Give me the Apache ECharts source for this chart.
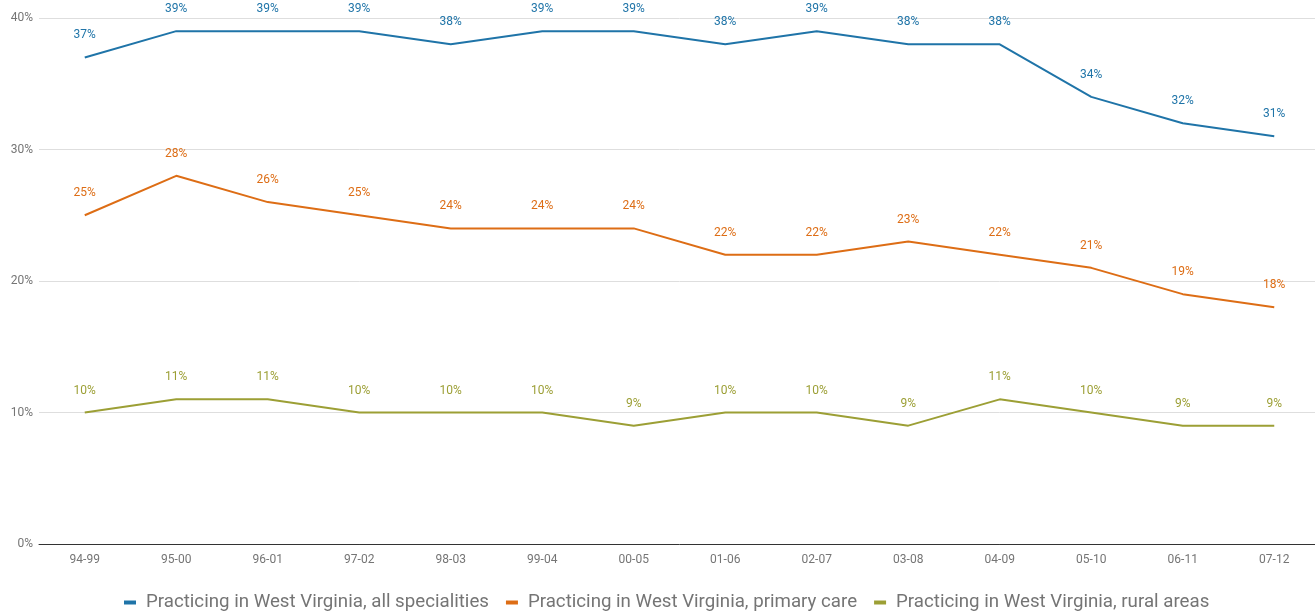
<!DOCTYPE html>
<html><head><meta charset="utf-8">
<script src="https://cdn.jsdelivr.net/npm/echarts@6/dist/echarts.min.js"></script>
<style>html,body{margin:0;padding:0;background:#fff;overflow:hidden}#c{width:1321px;height:612px}</style>
</head><body><div id="c"></div>
<script>
const categories = ["94-99","95-00","96-01","97-02","98-03","99-04","00-05","01-06","02-07","03-08","04-09","05-10","06-11","07-12"];
const allSpecialities = [37,39,39,39,38,39,39,38,39,38,38,34,32,31];
const primaryCare = [25,28,26,25,24,24,24,22,22,23,22,21,19,18];
const ruralAreas = [10,11,11,10,10,10,9,10,10,9,11,10,9,9];
const seriesNames = ["Practicing in West Virginia, all specialities","Practicing in West Virginia, primary care","Practicing in West Virginia, rural areas"];
const colors = ["#1f74a8","#dd6d15","#9c9f35"];
const font = "Roboto";
function mk(name, data, color){
  return {name, type:'line', data, symbol:'circle', symbolSize:0, showSymbol:true, color,
    lineStyle:{width:2, color},
    itemStyle:{color},
    label:{show:true, position:'top', distance:16, formatter:'{c}%', color, fontFamily:font, fontSize:12}};
}
const chart = echarts.init(document.getElementById('c'), null, {renderer:'canvas'});
chart.setOption({
  animation:false,
  textStyle:{fontFamily:font},
  grid:{left:39, top:18, width:1281, height:526, containLabel:false},
  legend:{top:588, left:119, itemWidth:12, itemHeight:4, itemGap:17, icon:'rect',
    textStyle:{color:'#757575', fontSize:18.7, fontFamily:font, padding:[0,0,0,5]},
    data:seriesNames},
  xAxis:{type:'category', data:categories, boundaryGap:true,
    axisLine:{lineStyle:{color:'#333', width:1}}, axisTick:{show:false},
    axisLabel:{color:'#757575', fontSize:12, margin:10, fontFamily:font}},
  yAxis:{type:'value', min:0, max:40, interval:10,
    axisLabel:{formatter:'{value}%', color:'#757575', fontSize:12, margin:6, fontFamily:font},
    splitLine:{lineStyle:{color:'#dedede'}}, axisLine:{show:false}, axisTick:{show:false}},
  series:[mk(seriesNames[0], allSpecialities, colors[0]), mk(seriesNames[1], primaryCare, colors[1]), mk(seriesNames[2], ruralAreas, colors[2])]
});
</script></body></html>
